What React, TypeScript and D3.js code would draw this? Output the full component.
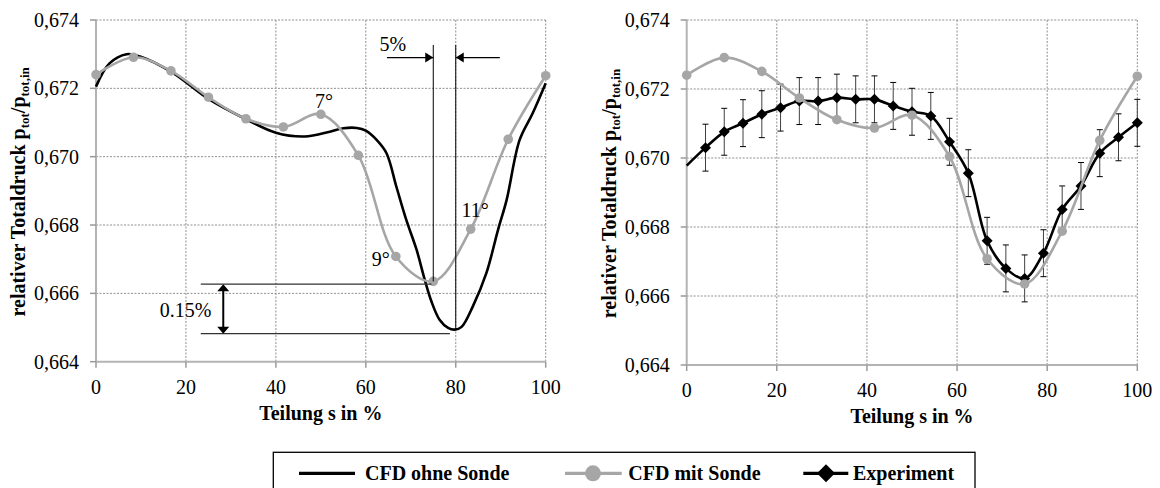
import React from "react";
import * as d3 from "d3";

// ---------- data ----------
const sTicks = [0, 20, 40, 60, 80, 100];
const pTicks = [0.664, 0.666, 0.668, 0.67, 0.672, 0.674];

// CFD ohne Sonde (black smooth line, no markers)
const ohneS = [0, 3, 6.8, 9.8, 17, 25, 33, 40, 46.4, 52, 55, 58, 60, 62.4, 64.6, 66.8, 69, 71.3, 73.1, 74.6, 76.4, 78.3, 79.8, 81.3, 83.8, 86.8, 89.4, 91.3, 94.2, 97.1, 100];
const ohneP = [0.67205, 0.67273, 0.673, 0.67293, 0.67246, 0.67169, 0.67112, 0.6707, 0.67059, 0.67073, 0.67083, 0.67084, 0.67076, 0.67049, 0.6701, 0.66912, 0.66815, 0.66727, 0.6664, 0.66576, 0.66523, 0.66499, 0.66494, 0.66502, 0.66562, 0.66659, 0.66786, 0.66873, 0.67049, 0.67127, 0.67215];

// CFD mit Sonde (grey, circles)
const mitS = [0, 8.33, 16.67, 25, 33.33, 41.67, 50, 58.33, 66.67, 75, 83.33, 91.67, 100];
const mitP = [0.6724, 0.67291, 0.67251, 0.67174, 0.67111, 0.67087, 0.67124, 0.67004, 0.66708, 0.66635, 0.66788, 0.67051, 0.67237];

// Experiment (black, diamonds, error bars); first point (s=0) has no marker
const expS = [0, 4.17, 8.33, 12.5, 16.67, 20.83, 25, 29.17, 33.33, 37.5, 41.67, 45.83, 50, 54.17, 58.33, 62.5, 66.67, 70.83, 75, 79.17, 83.33, 87.5, 91.67, 95.83, 100];
const expP = [0.66978, 0.6703, 0.67076, 0.67101, 0.67127, 0.67146, 0.67165, 0.67165, 0.67175, 0.6717, 0.6717, 0.67151, 0.67134, 0.67122, 0.67047, 0.66956, 0.6676, 0.6668, 0.66651, 0.66724, 0.66851, 0.66919, 0.67014, 0.6706, 0.67102];
const expErr = 0.00068;

const legendLabels = ["CFD ohne Sonde", "CFD mit Sonde", "Experiment"];

const GREY = "#a6a6a6";
const FONT = "'Liberation Serif', 'Times New Roman', serif";

type Pt = [number, number];
const zip = (a: number[], b: number[]): Pt[] => a.map((v, i) => [v, b[i]]);

const fmt = (v: number) => d3.format(".3f")(v).replace(".", ",");

function Panel({ x0, x1, y0, y1, children }: any) {
  const sx = d3.scaleLinear().domain([0, 100]).range([x0, x1]);
  const sy = d3.scaleLinear().domain([0.664, 0.674]).range([y1, y0]);
  const cy = (y0 + y1) / 2;
  return (
    <g>
      {/* grid */}
      {sTicks.slice(1).map((t) => (
        <line key={"gx" + t} x1={sx(t)} x2={sx(t)} y1={y0} y2={y1} stroke="#8f8f8f" strokeWidth={1} strokeDasharray="2,1.5" />
      ))}
      {pTicks.slice(1).map((t) => (
        <line key={"gy" + t} x1={x0} x2={x1} y1={sy(t)} y2={sy(t)} stroke="#8f8f8f" strokeWidth={1} strokeDasharray="2,1.5" />
      ))}
      {/* axes */}
      <line x1={x0} x2={x1} y1={y1} y2={y1} stroke="#b3b3b3" strokeWidth={2} />
      <line x1={x0} x2={x0} y1={y0} y2={y1} stroke="#b3b3b3" strokeWidth={2} />
      {sTicks.map((t) => (
        <g key={"tx" + t}>
          <line x1={sx(t)} x2={sx(t)} y1={y1} y2={y1 + 6} stroke="#9a9a9a" strokeWidth={1.5} />
          <text x={sx(t)} y={y1 + 32} textAnchor="middle" fontSize={20} fontFamily={FONT}>{t}</text>
        </g>
      ))}
      {pTicks.map((t) => (
        <g key={"ty" + t}>
          <line x1={x0 - 6} x2={x0} y1={sy(t)} y2={sy(t)} stroke="#9a9a9a" strokeWidth={1.5} />
          <text x={x0 - 17} y={sy(t)} dy="0.35em" textAnchor="end" fontSize={20} fontFamily={FONT}>{fmt(t)}</text>
        </g>
      ))}
      <text x={(x0 + x1) / 2} y={y1 + 58} textAnchor="middle" fontSize={20} fontWeight="bold" fontFamily={FONT}>Teilung s in %</text>
      <text transform={`translate(${x0 - 71},${cy + 1}) rotate(-90)`} textAnchor="middle" fontSize={20} fontWeight="bold" fontFamily={FONT}>
        relativer Totaldruck p<tspan fontSize={13} dy={4}>tot</tspan><tspan dy={-4}>/p</tspan><tspan fontSize={13} dy={4}>tot,in</tspan>
      </text>
      {children(sx, sy)}
    </g>
  );
}

const lineGen = (sx: any, sy: any) =>
  d3.line<Pt>().x((d) => sx(d[0])).y((d) => sy(d[1])).curve(d3.curveCatmullRom.alpha(0.5));

function MitSeries({ sx, sy }: any) {
  const pts = zip(mitS, mitP);
  return (
    <g>
      <path d={lineGen(sx, sy)(pts) || ""} fill="none" stroke={GREY} strokeWidth={2.6} />
      {pts.map((d, i) => (
        <circle key={i} cx={sx(d[0])} cy={sy(d[1])} r={4.8} fill={GREY} />
      ))}
    </g>
  );
}

function Diamond({ x, y, r }: any) {
  return <path d={`M${x},${y - r}L${x + r},${y}L${x},${y + r}L${x - r},${y}Z`} fill="#000" />;
}

export default function App() {
  const ohne = zip(ohneS, ohneP);
  const exp = zip(expS, expP);
  return (
    <svg width={1160} height={488} style={{ position: "absolute", left: 0, top: 0, background: "#fff" }}>
      {/* left panel */}
      <Panel x0={96} x1={545.7} y0={20} y1={361.7}>
        {(sx: any, sy: any) => {
          const ax = (s: number) => sx(s);
          const ay = (p: number) => sy(p);
          const minOhne = d3.min(ohneP) as number;
          const mit75 = mitP[mitS.indexOf(75)];
          const topP = 0.67327;
          const arrowP = 0.6729;
          const upP = 0.66627;
          const loP = 0.66482;
          const dblS = 28.3;
          return (
            <g>
              <path d={lineGen(sx, sy)(ohne) || ""} fill="none" stroke="#000" strokeWidth={2.6} />
              <MitSeries sx={sx} sy={sy} />
              {/* 5% annotation */}
              <line x1={ax(75)} x2={ax(75)} y1={ay(topP)} y2={ay(mit75)} stroke="#000" strokeWidth={1} />
              <line x1={ax(80)} x2={ax(80)} y1={ay(topP)} y2={ay(minOhne)} stroke="#000" strokeWidth={1} />
              <line x1={ax(64.7)} x2={ax(75)} y1={ay(arrowP)} y2={ay(arrowP)} stroke="#000" strokeWidth={1.3} />
              <path d={`M${ax(75)},${ay(arrowP)}l-8,-5l0,10Z`} fill="#000" />
              <line x1={ax(89.8)} x2={ax(80)} y1={ay(arrowP)} y2={ay(arrowP)} stroke="#000" strokeWidth={1.3} />
              <path d={`M${ax(80)},${ay(arrowP)}l8,-5l0,10Z`} fill="#000" />
              <text x={ax(66)} y={ay(0.67308)} textAnchor="middle" fontSize={20} fontFamily={FONT}>5%</text>
              {/* 0.15% annotation */}
              <line x1={ax(23.3)} x2={ax(74.6)} y1={ay(upP)} y2={ay(upP)} stroke="#333" strokeWidth={1.2} />
              <line x1={ax(23.3)} x2={ax(78.7)} y1={ay(loP)} y2={ay(loP)} stroke="#333" strokeWidth={1.2} />
              <line x1={ax(dblS)} x2={ax(dblS)} y1={ay(upP) + 5} y2={ay(loP) - 5} stroke="#000" strokeWidth={2} />
              <path d={`M${ax(dblS)},${ay(upP)}l-6,7l12,0Z`} fill="#000" />
              <path d={`M${ax(dblS)},${ay(loP)}l-6,-7l12,0Z`} fill="#000" />
              <text x={ax(19.9)} y={ay(0.66531)} textAnchor="middle" fontSize={20} fontFamily={FONT}>0.15%</text>
              {/* angle labels */}
              <text x={ax(50.7)} y={ay(0.67142)} textAnchor="middle" fontSize={20} fontFamily={FONT}>7°</text>
              <text x={ax(63.3)} y={ay(0.6668)} textAnchor="middle" fontSize={20} fontFamily={FONT}>9°</text>
              <text x={ax(84.3)} y={ay(0.66824)} textAnchor="middle" fontSize={20} fontFamily={FONT}>11°</text>
            </g>
          );
        }}
      </Panel>
      {/* right panel */}
      <Panel x0={686.7} x1={1137.3} y0={20} y1={365}>
        {(sx: any, sy: any) => (
          <g>
            <path d={lineGen(sx, sy)(exp) || ""} fill="none" stroke="#000" strokeWidth={2.6} />
            {exp.slice(1).map((d, i) => (
              <g key={i}>
                <line x1={sx(d[0])} x2={sx(d[0])} y1={sy(d[1] + expErr)} y2={sy(d[1] - expErr)} stroke="#404040" strokeWidth={1} />
                <line x1={sx(d[0]) - 3} x2={sx(d[0]) + 3} y1={sy(d[1] + expErr)} y2={sy(d[1] + expErr)} stroke="#000" strokeWidth={1} />
                <line x1={sx(d[0]) - 3} x2={sx(d[0]) + 3} y1={sy(d[1] - expErr)} y2={sy(d[1] - expErr)} stroke="#000" strokeWidth={1} />
                <Diamond x={sx(d[0])} y={sy(d[1])} r={5.5} />
              </g>
            ))}
            <MitSeries sx={sx} sy={sy} />
          </g>
        )}
      </Panel>
      {/* legend */}
      <g fontFamily={FONT} fontSize={20} fontWeight="bold">
        <rect x={273.3} y={452.3} width={701.7} height={40} fill="none" stroke="#000" strokeWidth={1.3} />
        <line x1={299} x2={355} y1={473.3} y2={473.3} stroke="#000" strokeWidth={3.3} />
        <text x={365} y={480}>{legendLabels[0]}</text>
        <line x1={565} x2={621.7} y1={473.3} y2={473.3} stroke={GREY} strokeWidth={3.3} />
        <circle cx={593} cy={473.3} r={8} fill={GREY} />
        <text x={628.3} y={480}>{legendLabels[1]}</text>
        <line x1={803.3} x2={848.3} y1={473.3} y2={473.3} stroke="#000" strokeWidth={3.3} />
        <Diamond x={826} y={473.3} r={9} />
        <text x={853} y={480}>{legendLabels[2]}</text>
      </g>
    </svg>
  );
}
